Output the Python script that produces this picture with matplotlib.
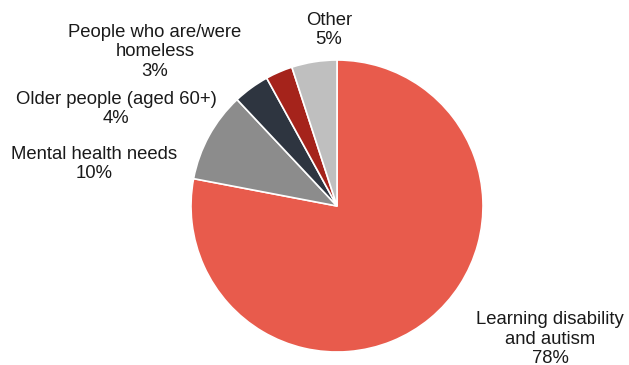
import matplotlib
matplotlib.use('Agg')
import matplotlib.pyplot as plt

# Share of people by primary need (clockwise from 12 o'clock)
categories = ['Learning disability\nand autism', 'Mental health needs', 'Older people (aged 60+)',
              'People who are/were\nhomeless', 'Other']
shares = [78, 10, 4, 3, 5]

COLORS = ['#E85B4C', '#8C8C8C', '#2E3540', '#A5231B', '#BFBFBF']
# label anchor points (pixel coords, origin bottom-left)
LABEL_POS = [(550, 26), (94, 201), (116, 256), (155, 313), (329, 335)]

plt.rcParams['font.family'] = ['Liberation Sans', 'DejaVu Sans']

fig = plt.figure(figsize=(6.29, 3.65), dpi=100)
ax = fig.add_axes([0, 0, 1, 1])
ax.pie(shares, colors=COLORS, startangle=90, counterclock=False,
       center=(337, 159), radius=146,
       wedgeprops=dict(edgecolor='white', linewidth=1.2))
ax.set_xlim(0, 629)
ax.set_ylim(0, 365)
ax.set_aspect('equal')
ax.axis('off')

for cat, val, (x, y) in zip(categories, shares, LABEL_POS):
    ax.text(x, y, f'{cat}\n{val}%', ha='center', va='center', fontsize=13.3,
            linespacing=1.22, color='#1a1a1a')

plt.savefig('out.png', dpi=100)
